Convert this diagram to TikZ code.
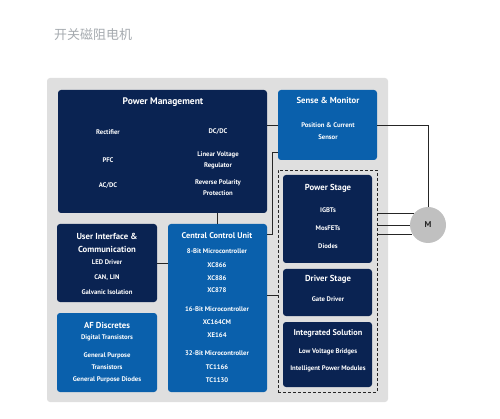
\documentclass[tikz,border=0pt]{standalone}
\usepackage{fontspec}
\setmainfont{PT Sans}
\newfontfamily\cjk{Noto Sans CJK SC}
\definecolor{navy}{RGB}{10,35,82}
\definecolor{mblue}{RGB}{10,96,172}
\definecolor{bggray}{RGB}{223,223,223}
\definecolor{mgray}{RGB}{192,192,192}
\definecolor{ttl}{RGB}{165,170,175}
\begin{document}
\begin{tikzpicture}[x=1pt,y=-1pt,
  box/.style={rounded corners=3pt, anchor=north west, inner sep=0pt, outer sep=0pt},
  navybox/.style={box, fill=navy},
  bluebox/.style={box, fill=mblue},
  hd/.style={text=white, font=\bfseries\fontsize{8.7}{13}\selectfont, inner sep=0pt, align=center},
  it/.style={text=white, font=\bfseries\fontsize{6.7}{11.5}\selectfont, inner sep=0pt, align=center},
  conn/.style={draw=black!85, line width=0.8pt}]
\useasboundingbox (0,0) rectangle (500,419);
% title
\node[anchor=west, text=ttl, font=\cjk\fontsize{13}{15}\selectfont, inner sep=0pt] (title) at (54,35) {开关磁阻电机};
% background
\node[box, fill=bggray, minimum width=341pt, minimum height=324pt] (bg) at (47,78) {};
% boxes
\node[navybox, minimum width=209pt, minimum height=123pt] (pm) at (58,90) {};
\node[bluebox, minimum width=99pt, minimum height=70pt] (sm) at (278,90) {};
\node[box, draw=black!85, dash pattern=on 3pt off 2pt, line width=0.9pt, rounded corners=0pt, minimum width=99pt, minimum height=222pt] (ds) at (278,170) {};
\node[navybox, minimum width=89pt, minimum height=88pt] (ps) at (283,175) {};
\node[navybox, minimum width=89pt, minimum height=47pt] (dr) at (283,269) {};
\node[navybox, minimum width=89pt, minimum height=65pt] (is) at (283,322) {};
\node[navybox, minimum width=100pt, minimum height=78pt] (ui) at (57,224) {};
\node[bluebox, minimum width=100pt, minimum height=79pt] (af) at (57,313) {};
\node[bluebox, minimum width=99pt, minimum height=168pt] (ccu) at (168,224) {};
\node[circle, fill=mgray, minimum size=36pt, inner sep=0pt, font=\bfseries\fontsize{8.5}{10}\selectfont, text=black!85] (m) at (428,225) {M};
% connectors
\coordinate (j1) at (272,152);
\coordinate (j2) at (272,234);
\draw[conn] (sm.west) -- (sm.west -| pm.east);
\draw[conn] (sm.east) -| (m.north);
\draw[conn] (pm.south -| ccu.north) -- (ccu.north);
\draw[conn] ([yshift=8pt]sm.south west) -- (j1) -- (j2) -- (j2 -| ccu.east);
\draw[conn] ([yshift=-71pt]ccu.north east) -- ([yshift=-71pt]ccu.north east -| ds.west);
\draw[conn] (ui.east) -- (ui.east -| ccu.west);
\draw[conn] (m.142 -| ds.east) -- (m.142);
\draw[conn] (m.west -| ds.east) -- (m.west);
\draw[conn] (m.210 -| ds.east) -- (m.210);
% Power Management
\node[hd, font=\bfseries\fontsize{9.5}{11}\selectfont] (pmt) at (163,102) {Power Management};
\node[it] (pm1) at (108,132) {Rectifier};
\node[it] (pm2) at (218,132) {DC/DC};
\node[it] (pm3) at (108,160) {PFC};
\node[it] (pm4) at (218,160.5) {Linear Voltage\\Regulator};
\node[it] (pm5) at (108,186) {AC/DC};
\node[it] (pm6) at (218,187.5) {Reverse Polarity\\Protection};
% Sense & Monitor
\node[hd] (smt) at (328,100) {Sense \& Monitor};
\node[it] (sm1) at (328,131) {Position \& Current\\Sensor};
% Power Stage
\node[hd] (pst) at (328,188) {Power Stage};
\node[it] (ps1) at (328,210) {IGBTs};
\node[it] (ps2) at (328,228) {MosFETs};
\node[it] (ps3) at (328,246) {Diodes};
% Driver Stage
\node[hd] (drt) at (328,279) {Driver Stage};
\node[it] (dr1) at (328,299) {Gate Driver};
% Integrated Solution
\node[hd, font=\bfseries\fontsize{8.3}{10}\selectfont] (ist) at (328,333) {Integrated Solution};
\node[it] (is1) at (328,352) {Low Voltage Bridges};
\node[it] (is2) at (328,369) {Intelligent Power Modules};
% User Interface
\node[hd] (uit) at (107,242.5) {User Interface \&\\Communication};
\node[it] (ui1) at (107,262) {LED Driver};
\node[it] (ui2) at (107,278) {CAN, LIN};
\node[it] (ui3) at (107,292) {Galvanic Isolation};
% AF Discretes
\node[hd] (aft) at (107,325) {AF Discretes};
\node[it] (af1) at (107,338) {Digital Transistors};
\node[it] (af2) at (107,361) {General Purpose\\Transistors};
\node[it] (af3) at (107,380) {General Purpose Diodes};
% Central Control Unit
\node[hd, font=\bfseries\fontsize{8.3}{10}\selectfont] (ccut) at (217,236) {Central Control Unit};
\node[it] (cc1) at (217,251) {8-Bit Microcontroller};
\node[it] (cc2) at (217,265) {XC866};
\node[it] (cc3) at (217,278) {XC886};
\node[it] (cc4) at (217,290) {XC878};
\node[it] (cc5) at (217,309) {16-Bit Microcontroller};
\node[it] (cc6) at (217,322) {XC164CM};
\node[it] (cc7) at (217,335) {XE164};
\node[it] (cc8) at (217,353) {32-Bit Microcontroller};
\node[it] (cc9) at (217,367) {TC1166};
\node[it] (cc10) at (217,380) {TC1130};
\end{tikzpicture}
\end{document}
